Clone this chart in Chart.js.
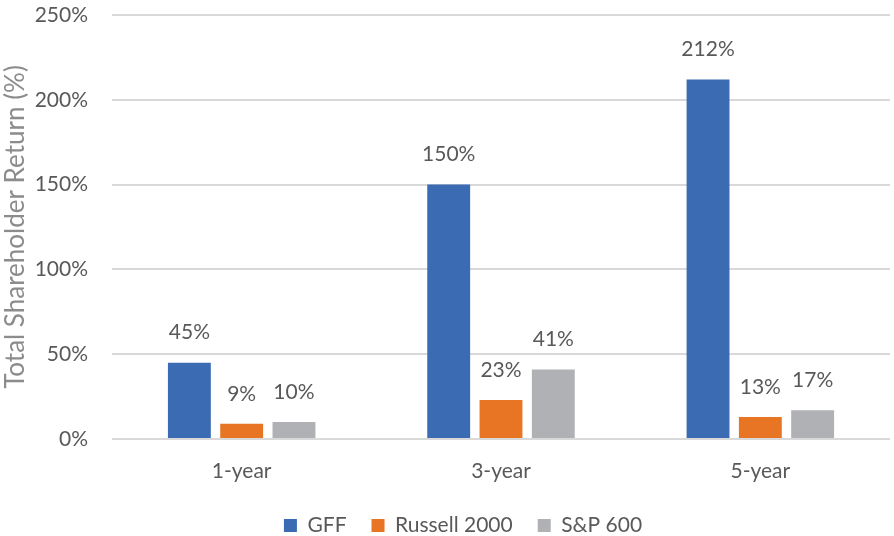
<!DOCTYPE html>
<html><head><meta charset="utf-8">
<script src="https://cdn.jsdelivr.net/npm/chart.js@4"></script>
<style>html,body{margin:0;padding:0;background:#fff}#wrap{width:894px;height:536px}</style>
</head><body><div id="wrap"><canvas id="c" width="894" height="536"></canvas></div>
<script>
const categories = ["1-year", "3-year", "5-year"];
const gffValues = [45, 150, 212];
const russellValues = [9, 23, 13];
const spValues = [10, 41, 17];
const yTicks = [0, 50, 100, 150, 200, 250];

const FONT = "Lato, 'Open Sans', sans-serif";
const TXT = "#595959";

const labelPlugin = {
  id: 'valLabels',
  afterDatasetsDraw(chart) {
    const ctx = chart.ctx;
    ctx.save();
    ctx.font = "21px " + FONT;
    ctx.fillStyle = TXT;
    ctx.textAlign = 'center';
    ctx.textBaseline = 'middle';
    chart.data.datasets.forEach((ds, i) => {
      chart.getDatasetMeta(i).data.forEach((bar, j) => {
        ctx.fillText(ds.data[j] + '%', bar.x, bar.y - 30);
      });
    });
    ctx.restore();
  }
};

const chart = new Chart(document.getElementById('c'), {
  type: 'bar',
  data: {
    labels: categories,
    datasets: [
      {label: 'GFF', data: gffValues, backgroundColor: '#3a6bb3'},
      {label: 'Russell 2000', data: russellValues, backgroundColor: '#e87524'},
      {label: 'S&P 600', data: spValues, backgroundColor: '#b0b1b5'}
    ]
  },
  options: {
    responsive: false,
    animation: false,
    devicePixelRatio: 1,
    categoryPercentage: 0.605,
    barPercentage: 0.82,
    layout: {padding: {top: 15, right: 4, left: 0, bottom: -10}},
    plugins: {
      legend: {
        position: 'bottom',
        labels: {boxWidth: 13, boxHeight: 13, color: TXT, font: {family: FONT, size: 21}, padding: 25}
      },
      tooltip: {enabled: false}
    },
    scales: {
      x: {
        grid: {display: false},
        border: {display: false},
        afterFit: s => { s.height = 51; s.paddingLeft = 0; s.paddingRight = 0; },
        ticks: {color: TXT, font: {family: FONT, size: 21}, padding: 12}
      },
      y: {
        min: 0, max: 250,
        afterBuildTicks: s => { s.ticks = yTicks.map(v => ({value: v})); },
        afterFit: s => { s.width = 112; s.paddingTop = 0; s.paddingBottom = 0; },
        grid: {color: '#d9d9d9', lineWidth: 2, drawTicks: false},
        border: {display: false},
        ticks: {color: TXT, font: {family: FONT, size: 21}, padding: 24, callback: v => v + '%'},
        title: {display: true, text: 'Total Shareholder Return (%)', color: '#8c8c8c', font: {family: FONT, size: 26}, padding: {top: 0, bottom: 6}}
      }
    }
  },
  plugins: [labelPlugin]
});
const origLegendDraw = chart.legend.draw;
chart.legend.draw = function () {
  const ctx = chart.ctx;
  ctx.save();
  ctx.translate(18, 0);
  origLegendDraw.apply(this, arguments);
  ctx.restore();
};
chart.draw();
</script></body></html>
